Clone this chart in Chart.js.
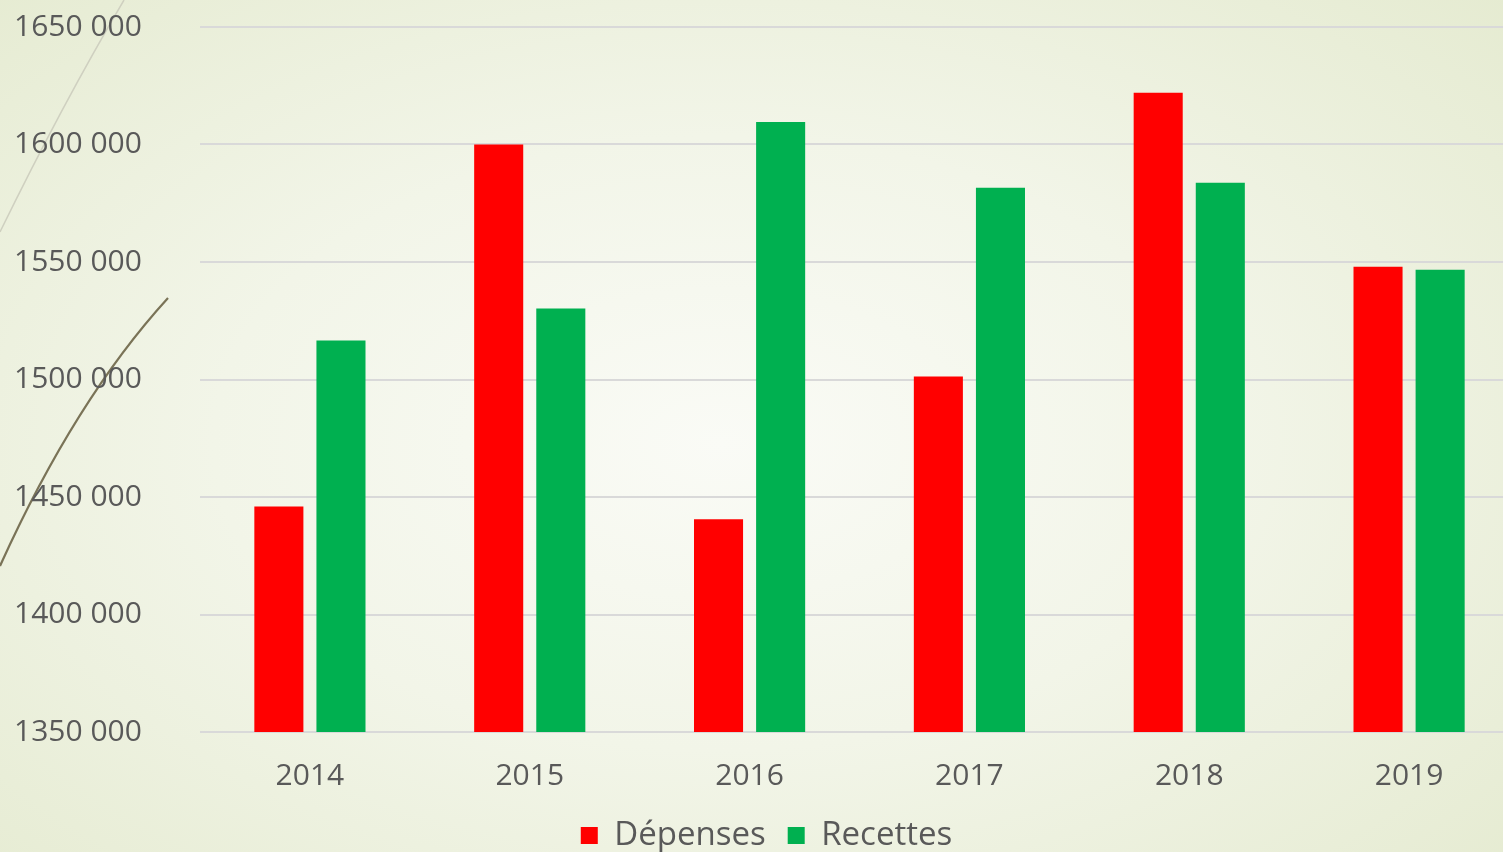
<!DOCTYPE html>
<html>
<head>
<meta charset="utf-8">
<script src="https://cdn.jsdelivr.net/npm/chart.js"></script>
<style>
  html, body { margin: 0; padding: 0; overflow: hidden; }
  #wrap {
    width: 1503px; height: 852px; overflow: hidden; position: relative;
    background: radial-gradient(ellipse 75% 80% at 48% 52%, #fafbf6 0%, #f2f5e8 45%, #e4eacf 100%);
  }
  #c { position: absolute; left: 0; top: 0; }
</style>
</head>
<body>
<div id="wrap"><canvas id="c" width="1519" height="862"></canvas></div>
<script>
const annees = ["2014", "2015", "2016", "2017", "2018", "2019"];
const depenses = [1446000, 1600000, 1440500, 1501300, 1622000, 1548000];
const recettes = [1516600, 1530200, 1609600, 1581600, 1583700, 1546700];
const yMin = 1350000, yMax = 1650000, yPas = 50000;

// format "1650 000"
const fmt = (v) => Math.floor(v / 1000) + " " + String(v % 1000).padStart(3, "0");

// lignes decoratives du fond (theme powerpoint)
const deco = {
  id: "deco",
  beforeDraw(chart) {
    const ctx = chart.ctx;
    ctx.save();
    ctx.strokeStyle = "#cfd0c0";
    ctx.lineWidth = 1.5;
    ctx.beginPath();
    ctx.moveTo(124, 0);
    ctx.quadraticCurveTo(62, 105, 0, 232);
    ctx.stroke();
    ctx.strokeStyle = "#7a7357";
    ctx.lineWidth = 2.2;
    ctx.beginPath();
    ctx.moveTo(168, 298);
    ctx.quadraticCurveTo(75, 400, 0, 566);
    ctx.stroke();
    ctx.restore();
  }
};

const police = "'Open Sans', sans-serif";

new Chart(document.getElementById("c"), {
  type: "bar",
  data: {
    labels: annees,
    datasets: [
      { label: "Dépenses", data: depenses, backgroundColor: "#ff0000", barPercentage: 0.79, categoryPercentage: 0.565 },
      { label: "Recettes", data: recettes, backgroundColor: "#00b050", barPercentage: 0.79, categoryPercentage: 0.565 }
    ]
  },
  options: {
    responsive: false,
    animation: false,
    layout: { padding: { left: 14, top: 27, right: 0, bottom: 0 } },
    plugins: {
      tooltip: { enabled: false },
      legend: {
        position: "bottom",
        labels: {
          color: "#595959",
          font: { family: police, size: 33 },
          boxWidth: 17, boxHeight: 17,
          padding: 22
        }
      }
    },
    scales: {
      x: {
        grid: { display: false },
        border: { display: false },
        ticks: { color: "#595959", font: { family: police, size: 30 }, padding: 18 },
        afterFit: (s) => { s.height = 65; }
      },
      y: {
        min: yMin, max: yMax,
        grid: { color: "#d9d9d9", lineWidth: 2, drawTicks: false },
        border: { display: false },
        ticks: {
          stepSize: yPas,
          color: "#595959",
          font: { family: police, size: 30 },
          padding: 0,
          crossAlign: "far",
          callback: (v) => fmt(v)
        },
        afterFit: (s) => { s.width = 186; }
      }
    }
  },
  plugins: [deco]
});
</script>
</body>
</html>
